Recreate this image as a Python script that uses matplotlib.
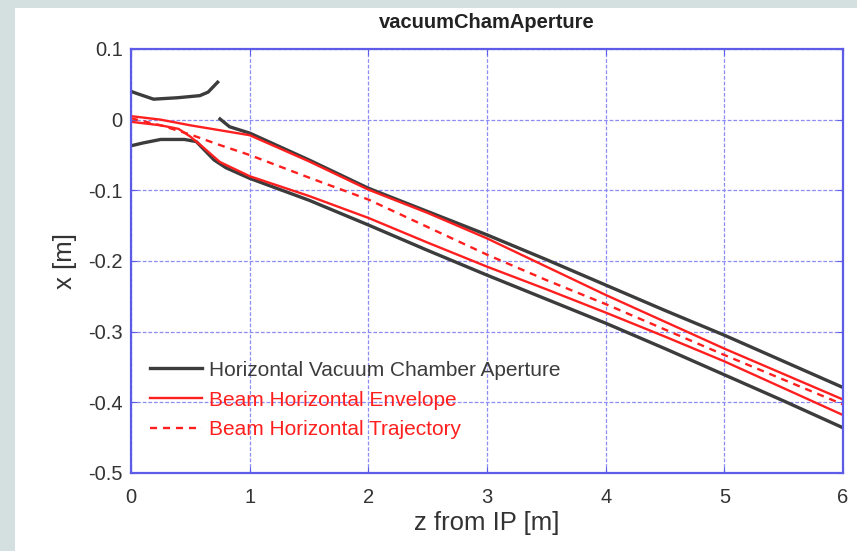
import matplotlib
matplotlib.use("Agg")
import matplotlib.pyplot as plt
from matplotlib.patches import Rectangle

plt.rcParams["font.family"] = ["Liberation Sans", "DejaVu Sans"]
plt.rcParams["axes.unicode_minus"] = False

# Horizontal vacuum chamber aperture (upper wall is split in two pieces)
cham_up1_z = [0.0, 0.05, 0.19, 0.39, 0.58, 0.65, 0.73]
cham_up1_x = [0.040, 0.037, 0.029, 0.031, 0.034, 0.039, 0.053]
cham_up2_z = [0.75, 0.83, 1.0, 1.5, 2.0, 2.5, 3.0, 3.5, 4.0, 4.5, 5.0, 5.5, 6.0]
cham_up2_x = [0.001, -0.010, -0.019, -0.057, -0.097, -0.130, -0.163, -0.198,
              -0.234, -0.270, -0.305, -0.342, -0.379]
cham_lo_z = [0.0, 0.1, 0.25, 0.45, 0.55, 0.7, 0.8, 1.0, 1.5, 2.0, 2.5, 3.0,
             3.5, 4.0, 4.5, 5.0, 5.5, 6.0]
cham_lo_x = [-0.037, -0.033, -0.028, -0.028, -0.031, -0.057, -0.068, -0.083,
             -0.114, -0.149, -0.185, -0.220, -0.254, -0.288, -0.324, -0.361,
             -0.398, -0.436]

# Beam horizontal envelope
env_up_z = [0.0, 0.25, 0.5, 0.75, 1.0, 1.5, 2.0, 2.5, 3.0, 3.5, 4.0, 4.5,
            5.0, 5.5, 6.0]
env_up_x = [0.005, 0.0, -0.008, -0.015, -0.022, -0.059, -0.099, -0.132,
            -0.168, -0.208, -0.248, -0.286, -0.324, -0.360, -0.396]
env_lo_z = [0.0, 0.25, 0.4, 0.5, 0.6, 0.75, 1.0, 1.5, 2.0, 2.5, 3.0, 3.5,
            4.0, 4.5, 5.0, 5.5, 6.0]
env_lo_x = [-0.003, -0.008, -0.013, -0.024, -0.038, -0.060, -0.080, -0.108,
            -0.139, -0.174, -0.208, -0.240, -0.273, -0.307, -0.342, -0.380,
            -0.418]

# Beam horizontal trajectory
traj_z = [0.0, 0.25, 0.5, 0.75, 1.0, 1.5, 2.0, 2.5, 3.0, 3.5, 4.0, 4.5,
          5.0, 5.5, 6.0]
traj_x = [0.002, -0.008, -0.021, -0.036, -0.050, -0.082, -0.113, -0.152,
          -0.191, -0.227, -0.261, -0.297, -0.333, -0.368, -0.403]

x_ticks = [0, 1, 2, 3, 4, 5, 6]
y_ticks = [-0.5, -0.4, -0.3, -0.2, -0.1, 0.0, 0.1]
y_tick_labels = ["-0.5", "-0.4", "-0.3", "-0.2", "-0.1", "0", "0.1"]

CHAM = "#3c3c3c"
BEAM = "#ff1f1f"
AXBLUE = "#5c5ce8"
TXT = "#333333"

fig = plt.figure(figsize=(8.57, 5.51), dpi=100, facecolor="#d4dfe0")
fig.add_artist(Rectangle((15 / 857, 0), 1, 1 - 8 / 551,
                         transform=fig.transFigure, facecolor="white",
                         edgecolor="none", zorder=-5))
ax = fig.add_axes([131 / 857, 1 - 473 / 551, 712 / 857, 424 / 551])
ax.set_zorder(2)

ax.plot(cham_up1_z, cham_up1_x, color=CHAM, lw=2.4,
        label="Horizontal Vacuum Chamber Aperture")
ax.plot(cham_up2_z, cham_up2_x, color=CHAM, lw=2.4)
ax.plot(cham_lo_z, cham_lo_x, color=CHAM, lw=2.4)
ax.plot(env_up_z, env_up_x, color=BEAM, lw=1.7, label="Beam Horizontal Envelope")
ax.plot(env_lo_z, env_lo_x, color=BEAM, lw=1.7)
ax.plot(traj_z, traj_x, color=BEAM, lw=1.7, ls=(0, (3, 2.5)),
        label="Beam Horizontal Trajectory")

ax.set_xlim(0, 6)
ax.set_ylim(-0.5, 0.1)
ax.set_xticks(x_ticks)
ax.set_xticklabels([str(t) for t in x_ticks])
ax.set_yticks(y_ticks)
ax.set_yticklabels(y_tick_labels)
ax.grid(True, color="#8c8cf5", lw=0.9, ls=(0, (3, 1.5)))
ax.set_axisbelow(True)
for sp in ax.spines.values():
    sp.set_color(AXBLUE)
    sp.set_linewidth(1.6)
ax.tick_params(direction="in", length=4, color=AXBLUE, top=True, right=True,
               labelsize=14.5, labelcolor=TXT)
ax.tick_params(axis="x", pad=11)
ax.tick_params(axis="y", pad=6)

ax.set_title("vacuumChamAperture", fontsize=14.5, fontweight="bold",
             color="#222222", pad=15)
ax.set_xlabel("z from IP [m]", fontsize=18.5, color=TXT, labelpad=3)
ax.set_ylabel("x [m]", fontsize=18.5, color=TXT, labelpad=8)

ax.legend(loc="center left", bbox_to_anchor=(0.027, 0.172), frameon=False,
          fontsize=15, labelcolor="linecolor", handlelength=2.5,
          handletextpad=0.3, labelspacing=0.52, borderaxespad=0.0,
          borderpad=0.0)

fig.savefig("out.png", dpi=100, facecolor=fig.get_facecolor())
